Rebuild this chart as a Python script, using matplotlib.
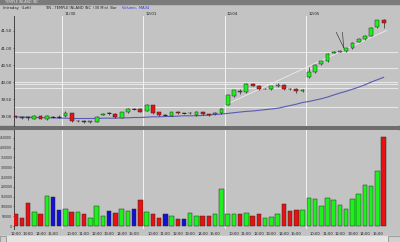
import matplotlib.pyplot as plt
from matplotlib.patches import Rectangle

# 30 min bars, TIN, 11/29 12:00 .. 12/05 15:30
day_names = ['11/30', '12/01', '12/04', '12/05']
day_first_bar = [8, 21, 34, 47]
session = ['9:30', '10:00', '10:30', '11:00', '11:30', '12:00', '12:30',
           '13:00', '13:30', '14:00', '14:30', '15:00', '15:30']
times = session[5:] + session * 4

opens = [38.99, 38.98, 38.97, 38.93, 39.01, 38.91, 38.98, 38.98, 39.00, 39.08,
         38.85, 38.87, 38.84, 38.84, 39.04, 39.08, 39.06, 38.95, 39.11, 39.22,
         39.22, 39.16, 39.32, 39.11, 39.03, 39.01, 39.12, 39.08, 39.08, 39.03,
         39.11, 39.05, 39.05, 39.08, 39.34, 39.59, 39.74, 39.71, 39.95, 39.88,
         39.80, 39.80, 39.87, 39.91, 39.81, 39.80, 39.73, 40.14, 40.29, 40.53,
         40.63, 40.86, 40.89, 40.90, 41.00, 41.19, 41.26, 41.36, 41.62, 41.81]
highs = [39.01, 39.00, 39.01, 39.03, 39.03, 39.02, 39.01, 39.02, 39.15, 39.10,
         38.88, 38.89, 38.86, 39.01, 39.10, 39.11, 39.08, 39.13, 39.25, 39.25,
         39.24, 39.37, 39.34, 39.12, 39.05, 39.13, 39.14, 39.10, 39.11, 39.14,
         39.13, 39.07, 39.12, 39.25, 39.66, 39.78, 39.80, 39.97, 39.98, 39.90,
         39.83, 39.89, 39.96, 39.93, 39.82, 39.83, 39.80, 40.45, 40.53, 40.66,
         40.85, 40.91, 40.93, 41.01, 41.18, 41.28, 41.38, 41.62, 41.83, 41.84]
lows = [38.95, 38.92, 38.90, 38.91, 38.91, 38.90, 38.95, 38.94, 38.98, 38.84,
        38.83, 38.79, 38.79, 38.82, 39.02, 39.04, 38.95, 38.94, 39.10, 39.19,
        39.11, 39.14, 39.06, 39.01, 39.01, 38.99, 39.07, 39.06, 39.06, 39.01,
        39.04, 39.00, 39.03, 39.06, 39.32, 39.57, 39.66, 39.69, 39.87, 39.78,
        39.79, 39.78, 39.85, 39.78, 39.78, 39.68, 39.71, 40.12, 40.27, 40.50,
        40.60, 40.84, 40.87, 40.88, 40.98, 41.17, 41.24, 41.34, 41.60, 41.60]
closes = [38.98, 38.95, 38.94, 39.01, 38.93, 38.99, 38.98, 38.98, 39.10, 38.86,
          38.86, 38.83, 38.85, 38.98, 39.06, 39.08, 38.96, 39.11, 39.22, 39.22,
          39.13, 39.34, 39.08, 39.03, 39.03, 39.11, 39.09, 39.08, 39.09, 39.12,
          39.06, 39.02, 39.10, 39.22, 39.61, 39.76, 39.71, 39.95, 39.89, 39.80,
          39.81, 39.87, 39.92, 39.80, 39.80, 39.74, 39.78, 40.29, 40.51, 40.63,
          40.82, 40.88, 40.91, 40.99, 41.16, 41.26, 41.35, 41.60, 41.81, 41.74]
volumes = [60000, 42000, 118000, 74000, 61000, 152000, 148000, 81000, 86000, 71000,
           71000, 61000, 40000, 101000, 51000, 77000, 67000, 89000, 77000, 86000,
           131000, 71000, 64000, 39000, 59000, 49000, 34000, 37000, 67000, 51000,
           51000, 51000, 64000, 187000, 64000, 64000, 64000, 67000, 52000, 62000,
           42000, 44000, 64000, 111000, 76000, 83000, 81000, 145000, 140000, 101000,
           145000, 135000, 108000, 86000, 136000, 162000, 207000, 202000, 283000, 456000]
ma34 = [38.98, 38.97, 38.97, 38.96, 38.96, 38.95, 38.95, 38.94, 38.94, 38.93,
        38.93, 38.93, 38.93, 38.93, 38.94, 38.94, 38.94, 38.95, 38.95, 38.96,
        38.96, 38.97, 38.98, 38.98, 38.99, 38.99, 39.00, 39.01, 39.01, 39.01,
        39.02, 39.03, 39.05, 39.06, 39.08, 39.10, 39.12, 39.14, 39.15, 39.17,
        39.19, 39.21, 39.23, 39.27, 39.31, 39.35, 39.40, 39.43, 39.47, 39.51,
        39.56, 39.62, 39.68, 39.73, 39.79, 39.85, 39.92, 40.00, 40.07, 40.14]
level_lines = [40.89, 40.42, 39.99, 39.93, 39.84, 39.26]
trend_x = [33.5, 59.5]
trend_y = [39.32, 41.52]
arrow_top = [(51.4, 41.46), (52.4, 41.46)]
arrow_tip = (52.6, 41.01)

price_ticks = [39.0, 39.5, 40.0, 40.5, 41.0, 41.5]
vol_ticks = [0, 50000, 100000, 150000, 200000, 250000, 300000, 350000, 400000, 450000]

GREEN = '#1ef01e'
RED = '#e81010'
BLUE = '#1010d8'
BG = '#c3c3c3'
EDGE = '#2a2a2a'

x = list(range(len(times)))
candle_col = []
for o, c in zip(opens, closes):
    if c > o:
        candle_col.append(GREEN)
    elif c < o:
        candle_col.append(RED)
    else:
        candle_col.append(BLUE)

fig = plt.figure(figsize=(4, 2.42), dpi=100, facecolor=BG)

# window chrome
fig.add_artist(Rectangle((0, 1 - 4 / 242), 1, 4 / 242, transform=fig.transFigure,
                         color='#7b7b7b', zorder=0))
fig.text(0.012, 1 - 2 / 242, 'TEMPLE INLAND INC', fontsize=2.3, color='#e0e0e0',
         va='center')
fig.add_artist(Rectangle((0, 0), 1, 6 / 242, transform=fig.transFigure,
                         color='#e4e4e4', zorder=0))
fig.add_artist(Rectangle((0, 0), 6 / 400, 6 / 242, transform=fig.transFigure,
                         facecolor='#d0d0d0', edgecolor='#707070', lw=0.4, zorder=1))
fig.add_artist(Rectangle((388 / 400, 0), 12 / 400, 6 / 242, transform=fig.transFigure,
                         facecolor='#d0d0d0', edgecolor='#707070', lw=0.4, zorder=1))
fig.add_artist(Rectangle((0, 1 - 129 / 242), 1, 3 / 242, transform=fig.transFigure,
                         color='#6e6e6e', zorder=0))

hy = 1 - 8 / 242
fig.text(0.008, hy, 'Intraday  (Left)', fontsize=2.7, color='#202020', va='center')
fig.text(45 / 400, hy, 'TIN - TEMPLE INLAND INC  (30 Min)  Bar', fontsize=2.6,
         color='#202020', va='center')
fig.text(122 / 400, hy, 'Volume,  MA34', fontsize=2.6, color='#3030e0', va='center')

ax = fig.add_axes([14 / 400, 1 - 126 / 242, 384 / 400, 110 / 242], facecolor=BG)
axv = fig.add_axes([14 / 400, 1 - 229 / 242, 384 / 400, 99 / 242], facecolor=BG)

for a in (ax, axv):
    a.set_xlim(-0.25, 61.3)
    for s in ('top', 'right', 'bottom'):
        a.spines[s].set_visible(False)
    a.spines['left'].set_color('#303030')
    a.spines['left'].set_linewidth(0.6)
    a.tick_params(axis='y', length=1.0, width=0.4, pad=0.3, colors='#202020')
    for d in day_first_bar:
        a.axvline(d - 0.5, color='#f4f4f4', lw=0.7, zorder=1)
ax.tick_params(axis='y', labelsize=2.9)
axv.tick_params(axis='y', labelsize=2.2)

# price panel
for lv in level_lines:
    ax.axhline(lv, color='#f0f0f0', lw=0.6, zorder=1)
ax.plot(trend_x, trend_y, color='#ececec', lw=0.6, zorder=1)
ax.plot(x, ma34, color='#5a5ab4', lw=0.8, zorder=2)
ax.vlines(x, lows, highs, color=EDGE, lw=0.5, zorder=3)
bodies = [c - o for o, c in zip(opens, closes)]
ax.bar(x, bodies, bottom=opens, width=0.62, color=candle_col, edgecolor=EDGE,
       lw=0.35, zorder=4)
for xi, o, c, col in zip(x, opens, closes, candle_col):
    if o == c:
        ax.hlines(o, xi - 0.31, xi + 0.31, color=col, lw=0.7, zorder=4)
for p in arrow_top:
    ax.plot([p[0], arrow_tip[0]], [p[1], arrow_tip[1]], color='#303030', lw=0.45,
            zorder=5)
ax.set_ylim(38.71, 41.94)
ax.set_yticks(price_ticks)
ax.set_yticklabels(['%.2f' % v for v in price_ticks])
ax.set_xticks([])
for d, name in zip(day_first_bar, day_names):
    ax.text(d - 0.1, 1.0, name, transform=ax.get_xaxis_transform(), fontsize=2.9,
            color='#202020', va='bottom', ha='left')

# volume panel
axv.bar(x, volumes, width=0.72, color=candle_col, edgecolor=EDGE, lw=0.35, zorder=3)
axv.set_ylim(-15000, 490000)
axv.set_yticks(vol_ticks)
axv.set_yticklabels([str(v) for v in vol_ticks])
hour_idx = [i for i, t in enumerate(times) if t.endswith(':00')]
axv.set_xticks(hour_idx)
axv.set_xticklabels([times[i].zfill(5) for i in hour_idx])
axv.tick_params(axis='x', labelsize=2.7, length=0, pad=2, colors='#202020')

fig.savefig('out.png', dpi=100, facecolor=BG)
